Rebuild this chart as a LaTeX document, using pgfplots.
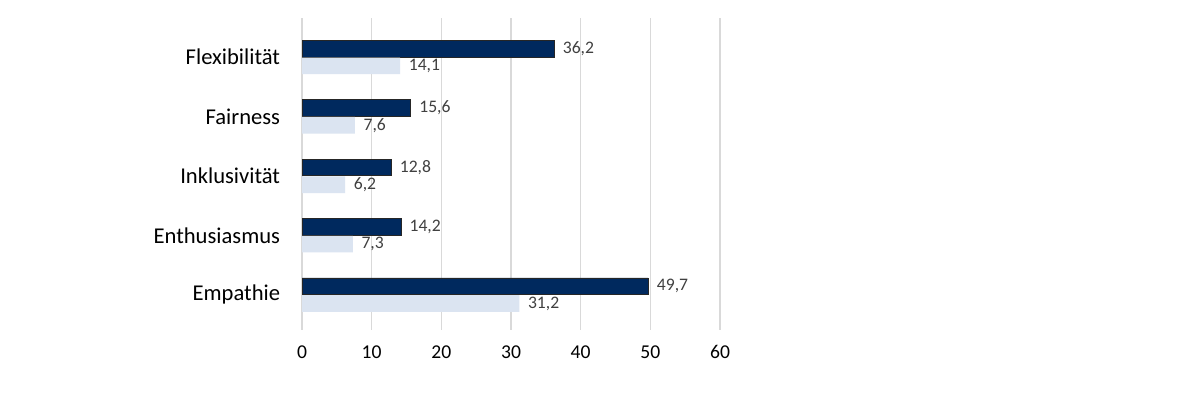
\documentclass[border=0pt]{standalone}
\usepackage{pgfplots}
\pgfplotsset{compat=1.18}
\usepackage{fontspec}
\setmainfont{Carlito}
\definecolor{navy}{RGB}{0,41,94}
\definecolor{lightb}{RGB}{219,228,241}
\definecolor{gridc}{RGB}{217,217,217}
\definecolor{txt}{RGB}{64,64,64}
\begin{document}
\begin{tikzpicture}
\useasboundingbox[fill=white] (0pt,0pt) rectangle (600pt,197pt);
\begin{axis}[
  at={(151pt,32pt)}, anchor=south west, scale only axis,
  width=209pt, height=156pt,
  xmin=0, xmax=60, ymin=-0.59, ymax=4.66,
  xbar, bar width=0.28,
  axis line style={draw=none},
  tick style={draw=none},
  xmajorgrids, grid style={gridc, line width=0.6pt},
  xtick={0,10,...,60},
  ytick={0,1,2,3,4},
  yticklabels={Empathie,Enthusiasmus,Inklusivität,Fairness,Flexibilität},
  /pgf/number format/assume math mode=true,
  yticklabel style={font=\fontsize{11.3}{13}\selectfont, text=black, anchor=east, inner sep=0pt, xshift=-6.5pt},
  xticklabel style={font=\fontsize{9.8}{11}\selectfont, text=black, anchor=north, inner sep=0pt, yshift=-7.5pt},
  nodes near coords={\pgfmathprintnumber[fixed,precision=1,fixed zerofill,use comma]{\pgfplotspointmeta}},
  every node near coord/.append style={font=\fontsize{8.8}{10}\selectfont, text=txt, anchor=west, xshift=0.8pt},
]
\addplot[fill=navy, draw=black!85, line width=0.4pt, bar shift=0.145] coordinates {
  (49.7,0) (14.2,1) (12.8,2) (15.6,3) (36.2,4)
};
\addplot[fill=lightb, draw=none, bar shift=-0.145] coordinates {
  (31.2,0) (7.3,1) (6.2,2) (7.6,3) (14.1,4)
};
\end{axis}
\end{tikzpicture}
\end{document}
